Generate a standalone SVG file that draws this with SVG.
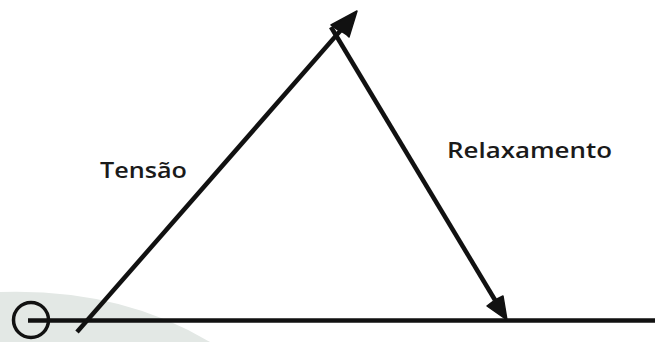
<svg xmlns="http://www.w3.org/2000/svg" width="655" height="342" viewBox="0 0 655 342">
  <style>
    .ln { stroke: #111; stroke-width: 4.5; fill: none; stroke-linecap: butt; }
    .ah { fill: #111; stroke: #111; stroke-width: 1.5; stroke-linejoin: round; }
    .lbl { font-family: "Open Sans", "Liberation Sans", sans-serif; font-weight: 600; font-size: 21px; fill: #1a1a1a; }
  </style>
  <rect width="655" height="342" fill="#ffffff"/>
  <g id="background">
    <path d="M0,292 Q120,288 210,342 L0,342 Z" fill="#e3e8e5"/>
  </g>
  <g id="axis">
    <circle cx="31" cy="320" r="17.5" fill="none" stroke="#111" stroke-width="3.5"/>
    <line class="ln" x1="28" y1="320.5" x2="655" y2="320.5"/>
  </g>
  <g id="connectors">
    <line class="ln" x1="77" y1="332" x2="341" y2="30"/>
    <path class="ah" d="M357,11 L349,37 Q344,32 340,31 Q336,29 331,25 Z"/>
    <line class="ln" x1="331" y1="27" x2="495" y2="300"/>
    <path class="ah" d="M507,320 L487,306 Q492,302 495,300 Q499,298 503,296 Z"/>
  </g>
  <g id="label-tensao">
    <text class="lbl" x="100" y="178" textLength="87" lengthAdjust="spacingAndGlyphs">Tensão</text>
  </g>
  <g id="label-relaxamento">
    <text class="lbl" x="447" y="158" textLength="165" lengthAdjust="spacingAndGlyphs">Relaxamento</text>
  </g>
</svg>
